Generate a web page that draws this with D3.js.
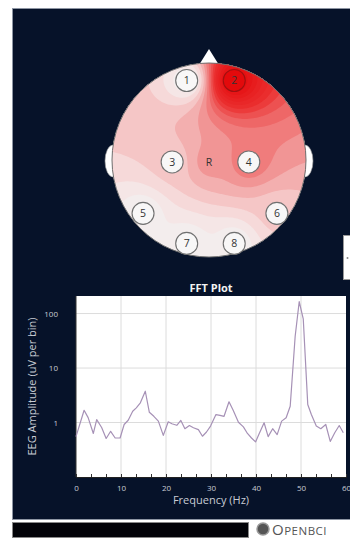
<!DOCTYPE html>
<html>
<head>
<meta charset="utf-8">
<script src="https://cdn.jsdelivr.net/npm/d3@7"></script>
<style>
  html, body { margin: 0; padding: 0; background: #fff; overflow: hidden; }
  svg { display: block; font-family: "Open Sans", Lato, sans-serif; }
</style>
</head>
<body>
<div id="chart"></div>
<script>
// ---- data ----
// electrode montage (normalised head coordinates, -1..1) and channel levels
const channelLabels = ['1', '2', '3', '4', '5', '6', '7', '8', 'R'];
const channelPosX = [-0.23, 0.26, -0.38, 0.41, -0.68, 0.70, -0.23, 0.26, 0.0];
const channelPosY = [-0.82, -0.82, 0.02, 0.02, 0.55, 0.55, 0.86, 0.86, 0.02];
const channelLevel = [0.0, 1.0, 0.2, 0.42, 0.0, 0.2, 0.0, 0.0, 0.33];

// FFT spectrum
const fftFreq = [0.0, 1.8, 2.7, 3.85, 4.6, 5.7, 6.7, 7.7, 8.7, 9.8, 10.7, 11.6, 12.6, 13.4, 14.3, 15.4, 16.3, 17.3, 18.3, 19.4,
  20.5, 21.3, 22.4, 23.3, 24.2, 25.2, 26.1, 27.2, 28.1, 29.0, 29.9, 31.1, 32.0, 32.9, 34.0, 34.9, 36.1, 37.2, 38.1, 39.0,
  39.9, 40.7, 41.8, 42.7, 43.7, 44.7, 45.7, 46.7, 47.6, 48.7, 49.6, 50.5, 51.5, 52.3, 53.4, 54.4, 55.5, 56.5, 57.5, 58.5, 59.4];
const fftAmp = [0.55, 1.68, 1.23, 0.63, 1.13, 0.81, 0.51, 0.69, 0.52, 0.52, 0.92, 1.1, 1.61, 1.86, 2.3, 3.75, 1.54, 1.3, 1.06, 0.58,
  1.03, 0.95, 0.89, 1.09, 0.77, 0.88, 0.8, 0.74, 0.56, 0.67, 0.86, 1.4, 1.35, 1.3, 2.4, 1.7, 1.01, 0.83, 0.63, 0.52,
  0.44, 0.62, 0.99, 0.55, 0.77, 0.6, 1.06, 1.22, 1.99, 38, 165, 80, 2.14, 1.4, 0.86, 0.77, 0.92, 0.45, 0.65, 0.88, 0.65];
const xTicks = [0, 10, 20, 30, 40, 50, 60];
const yTicks = [1, 10, 100];

// ---- layout ----
const W = 350, H = 541;
const bg = '#061229';
const head = {cx: 209, cy: 160, r: 97};
const plot = {left: 76, right: 346, top: 296, bottom: 477};
const labelColor = '#c8ccd4';

const svg = d3.select('#chart').append('svg').attr('width', W).attr('height', H);

// dark panel
svg.append('rect').attr('x', 12.5).attr('y', 8.5).attr('width', 345).attr('height', 511)
  .attr('fill', bg).attr('stroke', '#8d95a3').attr('stroke-width', 1);

// ---- head plot ----
const headG = svg.append('g');

// nose and ears
headG.append('path')
  .attr('d', `M${head.cx},${head.cy - head.r - 14} L${head.cx + 10},${head.cy - head.r + 2} L${head.cx - 10},${head.cy - head.r + 2} Z`)
  .attr('fill', '#fff');
[-1, 1].forEach(s => {
  headG.append('ellipse')
    .attr('cx', head.cx + s * (head.r - 1)).attr('cy', head.cy + 1)
    .attr('rx', 8).attr('ry', 16)
    .attr('fill', '#fff').attr('stroke', '#999').attr('stroke-width', 0.6);
});

// interpolated field on a grid (inverse distance weighting)
const n = 110;
const span = 1.1;
const grid = new Array(n * n);
for (let j = 0; j < n; j++) {
  for (let i = 0; i < n; i++) {
    const x = -span + (i + 0.5) * 2 * span / n;
    const y = -span + (j + 0.5) * 2 * span / n;
    let ws = 0, vs = 0, hit = -1;
    for (let k = 0; k < channelLevel.length; k++) {
      const d2 = (x - channelPosX[k]) ** 2 + (y - channelPosY[k]) ** 2;
      if (d2 < 1e-9) { hit = k; break; }
      const w = 1 / d2;
      ws += w; vs += w * channelLevel[k];
    }
    grid[j * n + i] = hit >= 0 ? channelLevel[hit] : vs / ws;
  }
}

const heatColor = d3.scaleLinear()
  .domain([0, 0.12, 0.24, 0.38, 0.6, 1])
  .range(['#f2f1f1', '#f6e2e2', '#f4bcbc', '#f08080', '#eb3030', '#e30a0c']);

const thresholds = d3.range(0, 1.0001, 0.06);
const contours = d3.contours().size([n, n]).thresholds(thresholds)(grid);
const cell = 2 * span * head.r / n;
const proj = d3.geoIdentity().scale(cell).translate([head.cx - span * head.r, head.cy - span * head.r]);
const geo = d3.geoPath(proj);

svg.append('clipPath').attr('id', 'headClip')
  .append('circle').attr('cx', head.cx).attr('cy', head.cy).attr('r', head.r);

headG.append('g').attr('clip-path', 'url(#headClip)')
  .selectAll('path').data(contours).join('path')
  .attr('d', geo)
  .attr('fill', d => heatColor(d.value + 0.03));

headG.append('circle').attr('cx', head.cx).attr('cy', head.cy).attr('r', head.r)
  .attr('fill', 'none').attr('stroke', '#6f6f6f').attr('stroke-width', 1);

// electrodes
const elec = headG.selectAll('g.elec').data(channelLabels).join('g')
  .attr('class', 'elec')
  .attr('transform', (d, i) => `translate(${head.cx + channelPosX[i] * head.r},${head.cy + channelPosY[i] * head.r})`);
elec.filter(d => d !== 'R').append('circle')
  .attr('r', 11)
  .attr('fill', (d, i) => channelLevel[i] > 0.8 ? heatColor(channelLevel[i]) : '#f8f7f7')
  .attr('stroke', (d, i) => channelLevel[i] > 0.8 ? '#a01010' : '#707070')
  .attr('stroke-width', 1.1);
elec.append('text')
  .attr('text-anchor', 'middle').attr('dy', '0.36em')
  .attr('font-size', 10.5).attr('fill', '#333')
  .text(d => d);

// small widget at the right edge
svg.append('rect').attr('x', 343.5).attr('y', 235.5).attr('width', 12).attr('height', 44)
  .attr('fill', '#fff').attr('stroke', '#999');
svg.append('circle').attr('cx', 347.5).attr('cy', 258).attr('r', 1).attr('fill', '#888');

// ---- FFT plot ----
const x = d3.scaleLinear().domain([0, 60]).range([plot.left, plot.right]);
const y = d3.scaleLog().domain([0.1, 210]).range([plot.bottom, plot.top]);

svg.append('text').attr('x', 211).attr('y', 292)
  .attr('text-anchor', 'middle').attr('font-size', 11).attr('font-weight', 'bold')
  .attr('fill', '#f2f2f2').text('FFT Plot');

svg.append('rect').attr('x', plot.left).attr('y', plot.top)
  .attr('width', plot.right - plot.left).attr('height', plot.bottom - plot.top)
  .attr('fill', '#fff');

// grid
const gridG = svg.append('g').attr('stroke', '#dcdcdc').attr('stroke-width', 1);
gridG.selectAll('line.v').data(xTicks.slice(1, -1)).join('line')
  .attr('x1', d => x(d)).attr('x2', d => x(d))
  .attr('y1', plot.top).attr('y2', plot.bottom);
gridG.selectAll('line.h').data(yTicks).join('line')
  .attr('x1', plot.left).attr('x2', plot.right)
  .attr('y1', d => y(d)).attr('y2', d => y(d));

// minor ticks along the bottom
svg.append('g').attr('transform', `translate(0,${plot.bottom})`)
  .call(d3.axisTop(x).tickValues(d3.range(0, 60.01, 10 / 3)).tickSize(3).tickFormat(''))
  .call(g => g.select('.domain').attr('stroke', '#222'))
  .call(g => g.selectAll('.tick line').attr('stroke', '#333'));

// left frame
svg.append('line').attr('x1', plot.left).attr('x2', plot.left)
  .attr('y1', plot.top).attr('y2', plot.bottom).attr('stroke', '#333');

// spectrum
const line = d3.line().x((d, i) => x(fftFreq[i])).y(d => y(d));
svg.append('path').datum(fftAmp)
  .attr('d', line).attr('fill', 'none')
  .attr('stroke', '#a691b6').attr('stroke-width', 1.2).attr('stroke-linejoin', 'round');

// tick labels
const xAx = svg.append('g').attr('transform', `translate(0,${plot.bottom})`)
  .call(d3.axisBottom(x).tickValues(xTicks).tickSize(0).tickPadding(8).tickFormat(d3.format('d')));
xAx.select('.domain').remove();
xAx.selectAll('text').attr('fill', labelColor).attr('font-size', 8).attr('font-family', '"Open Sans", sans-serif');

const yAx = svg.append('g').attr('transform', `translate(${plot.left - 18},0)`)
  .call(d3.axisLeft(y).tickValues(yTicks).tickSize(0).tickPadding(0).tickFormat(d3.format('d')));
yAx.select('.domain').remove();
yAx.selectAll('text').attr('fill', labelColor).attr('font-size', 8).attr('font-family', '"Open Sans", sans-serif');

svg.append('text').attr('x', 211).attr('y', 504)
  .attr('text-anchor', 'middle').attr('font-size', 11).attr('fill', labelColor)
  .text('Frequency (Hz)');
svg.append('text')
  .attr('transform', `translate(36,${(plot.top + plot.bottom) / 2}) rotate(-90)`)
  .attr('text-anchor', 'middle').attr('font-size', 11).attr('fill', labelColor)
  .text('EEG Amplitude (uV per bin)');

// ---- footer ----
svg.append('rect').attr('x', 12.5).attr('y', 522.5).attr('width', 236).attr('height', 15)
  .attr('fill', '#020308').attr('stroke', '#888');
svg.append('circle').attr('cx', 263).attr('cy', 529).attr('r', 6)
  .attr('fill', '#555').attr('stroke', '#999').attr('stroke-width', 1.5);
const logo = svg.append('text').attr('x', 272).attr('y', 535).attr('fill', '#555')
  .attr('font-size', 15).attr('letter-spacing', 0.5);
logo.append('tspan').text('O');
logo.append('tspan').attr('font-size', 11.5).text('PENBCI');
</script>
</body>
</html>
